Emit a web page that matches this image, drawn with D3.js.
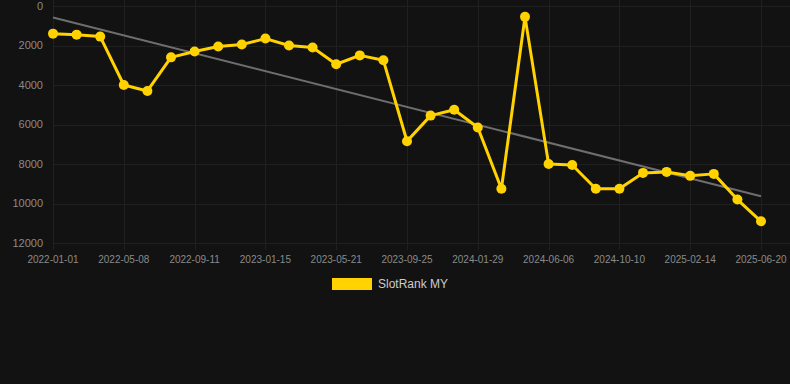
<!DOCTYPE html>
<html>
<head>
<meta charset="utf-8">
<style>
  html, body { margin: 0; padding: 0; background: #121212; }
  svg { display: block; }
</style>
</head>
<body>
<svg width="790" height="384"></svg>
<script src="https://d3js.org/d3.v7.min.js"></script>
<script>

// every third point carries a date label on the axis
var tickLabels = ["2022-01-01", "2022-05-08", "2022-09-11", "2023-01-15", "2023-05-21",
                  "2023-09-25", "2024-01-29", "2024-06-06", "2024-10-10", "2025-02-14", "2025-06-20"];

var rankMY = [1400, 1450, 1550, 4000, 4300, 2600, 2300, 2050, 1950, 1650,
              2000, 2100, 2950, 2500, 2750, 6850, 5550, 5250, 6150, 9250,
              550, 8000, 8050, 9250, 9250, 8450, 8400, 8600, 8500, 9800,
              10900];

var yTicks = [0, 2000, 4000, 6000, 8000, 10000, 12000];

var svg = d3.select("svg"),
    width = +svg.attr("width"),
    height = +svg.attr("height");

var plotL = 53, plotR = 761, plotT = 6, plotB = 243;

var x = d3.scalePoint()
    .domain(d3.range(rankMY.length))
    .range([plotL, plotR]);

var y = d3.scaleLinear()
    .domain([0, 12000])
    .range([plotT, plotB]);

// grid
var grid = svg.append("g").attr("stroke", "#202020").attr("stroke-width", 1);
grid.selectAll("line.h")
  .data(yTicks)
  .enter().append("line")
    .attr("x1", plotL).attr("x2", width)
    .attr("y1", d => Math.round(y(d)) + 0.5)
    .attr("y2", d => Math.round(y(d)) + 0.5);
grid.selectAll("line.v")
  .data(tickLabels)
  .enter().append("line")
    .attr("x1", (d, i) => Math.round(x(i * 3)) + 0.5)
    .attr("x2", (d, i) => Math.round(x(i * 3)) + 0.5)
    .attr("y1", 0).attr("y2", plotB + 7);

// y labels
svg.append("g")
    .attr("font-family", "Helvetica, Arial, sans-serif")
    .attr("font-size", 11)
    .attr("fill", "#8a8a8a")
    .attr("text-anchor", "end")
  .selectAll("text")
  .data(yTicks)
  .enter().append("text")
    .attr("x", 43)
    .attr("y", d => y(d))
    .attr("dy", "0.35em")
    .text(d => d);

// x labels
svg.append("g")
    .attr("font-family", "Helvetica, Arial, sans-serif")
    .attr("font-size", 10)
    .attr("fill", "#8a8a8a")
    .attr("text-anchor", "middle")
  .selectAll("text")
  .data(tickLabels)
  .enter().append("text")
    .attr("x", (d, i) => x(i * 3))
    .attr("y", 259)
    .attr("dy", "0.35em")
    .text(d => d);

// linear trend (least squares)
var n = rankMY.length,
    mx = d3.mean(d3.range(n)),
    my = d3.mean(rankMY),
    slope = d3.sum(rankMY, (v, i) => (i - mx) * (v - my)) / d3.sum(d3.range(n), i => (i - mx) * (i - mx)),
    icpt = my - slope * mx;

svg.append("line")
    .attr("x1", x(0)).attr("y1", y(icpt))
    .attr("x2", x(n - 1)).attr("y2", y(icpt + slope * (n - 1)))
    .attr("stroke", "#6e6e6e")
    .attr("stroke-width", 2);

var line = d3.line()
    .x((d, i) => x(i))
    .y(d => y(d));

svg.append("path")
    .datum(rankMY)
    .attr("fill", "none")
    .attr("stroke", "#ffd200")
    .attr("stroke-width", 3)
    .attr("stroke-linejoin", "round")
    .attr("d", line);

svg.append("g")
    .attr("fill", "#ffd200")
  .selectAll("circle")
  .data(rankMY)
  .enter().append("circle")
    .attr("cx", (d, i) => x(i))
    .attr("cy", d => y(d))
    .attr("r", 5);

// legend
svg.append("rect")
    .attr("x", 332).attr("y", 278)
    .attr("width", 40).attr("height", 12)
    .attr("fill", "#ffd200");
svg.append("text")
    .attr("x", 378).attr("y", 284)
    .attr("dy", "0.35em")
    .attr("font-family", "Helvetica, Arial, sans-serif")
    .attr("font-size", 12)
    .attr("fill", "#cccccc")
    .text("SlotRank MY");

</script>
</body>
</html>
